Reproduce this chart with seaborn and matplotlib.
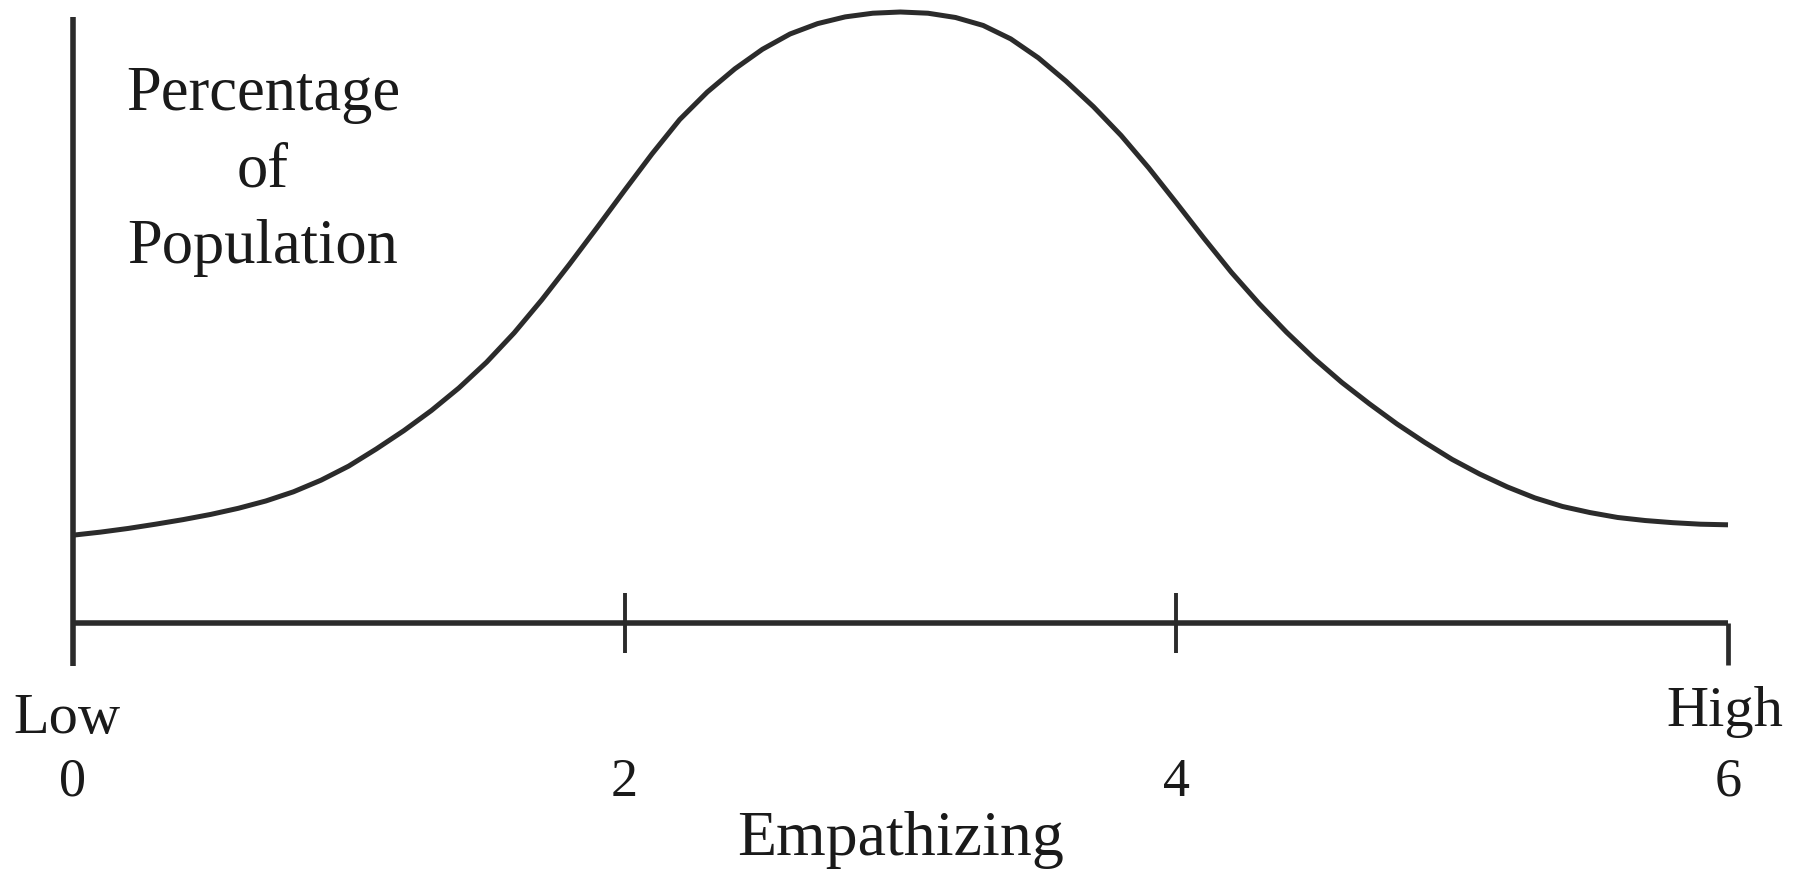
import numpy as np
import matplotlib
matplotlib.use("Agg")
import matplotlib.pyplot as plt
import matplotlib.lines as mlines
import seaborn as sns

# datos (altura relativa al pico = 100)
empathizing = [0.0, 0.1, 0.2, 0.3, 0.4, 0.5, 0.6, 0.7, 0.8, 0.9,
               1.0, 1.1, 1.2, 1.3, 1.4, 1.5, 1.6, 1.7, 1.8, 1.9,
               2.0, 2.1, 2.2, 2.3, 2.4, 2.5, 2.6, 2.7, 2.8, 2.9,
               3.0, 3.1, 3.2, 3.3, 3.4, 3.5, 3.6, 3.7, 3.8, 3.9,
               4.0, 4.1, 4.2, 4.3, 4.4, 4.5, 4.6, 4.7, 4.8, 4.9,
               5.0, 5.1, 5.2, 5.3, 5.4, 5.5, 5.6, 5.7, 5.8, 5.9, 6.0]
population_pct = [14.4, 14.9, 15.5, 16.2, 16.95, 17.8, 18.8, 20.0, 21.5, 23.4,
                  25.7, 28.5, 31.5, 34.8, 38.5, 42.7, 47.5, 52.9, 58.7, 64.7,
                  70.8, 76.8, 82.4, 86.9, 90.7, 93.9, 96.4, 98.1, 99.2, 99.8,
                  100.0, 99.8, 99.1, 97.8, 95.6, 92.5, 88.7, 84.5, 79.8, 74.5,
                  68.8, 63.0, 57.4, 52.3, 47.6, 43.3, 39.4, 35.9, 32.6, 29.6,
                  26.8, 24.4, 22.3, 20.5, 19.1, 18.1, 17.3, 16.8, 16.45, 16.2, 16.1]
tick_values = [0, 2, 4, 6]
tick_labels = ["0", "2", "4", "6"]
end_labels = ["Low", "High"]

sns.set_theme(style="white")
plt.rcParams["font.family"] = ["Liberation Serif", "DejaVu Serif"]

line_color = "#2b2b2b"
text_color = "#1a1a1a"

fig = plt.figure(figsize=(18.1, 8.69), dpi=100)
fig.patch.set_facecolor("white")
ax = fig.add_axes([0.0402, 0.2336, 0.9145, 0.7526])
ax.set_facecolor("white")

sns.lineplot(x=empathizing, y=population_pct, ax=ax, color=line_color,
             linewidth=3.6, clip_on=False, solid_joinstyle="round",
             solid_capstyle="butt")

ax.set_xlim(0, 6)
ax.set_ylim(-7, 100)

##ejes estilo "libro"
ax.spines["top"].set_visible(False)
ax.spines["right"].set_visible(False)
ax.spines["bottom"].set_position(("data", 0))
ax.spines["bottom"].set_bounds(0, 6)
ax.spines["left"].set_bounds(-7, 99.2)
for s in ["bottom", "left"]:
    ax.spines[s].set_linewidth(4.0)
    ax.spines[s].set_color(line_color)
    ax.spines[s].set_capstyle("butt")

ax.set_yticks([])
ax.set_xticks(tick_values, tick_labels)
ax.tick_params(axis="x", bottom=True, direction="inout", length=43, width=2.8,
               color=line_color, labelsize=39, labelcolor=text_color, pad=75)
ticks = ax.xaxis.get_major_ticks()
ticks[0].tick1line.set_visible(False)
ticks[-1].tick1line.set_marker(mlines.TICKDOWN)
ticks[-1].tick1line.set_markersize(30)
ticks[-1].tick1line.set_markeredgewidth(3.4)

ax.set_xlabel("Empathizing", fontsize=46, color=text_color, labelpad=2)

ax.set_ylabel("Percentage\nof\nPopulation", fontsize=45, color=text_color,
              rotation=0, ha="center", va="center", multialignment="center",
              linespacing=1.42)
ax.yaxis.set_label_coords(0.115, 0.756)

##etiquetas Low / High sobre los extremos
ax.annotate(end_labels[0], xy=(tick_values[0], 0), xytext=(-4, -79),
            textcoords="offset points", ha="center", va="baseline",
            fontsize=42, color=text_color)
ax.annotate(end_labels[1], xy=(tick_values[-1], 0), xytext=(-2, -74),
            textcoords="offset points", ha="center", va="baseline",
            fontsize=42, color=text_color)

plt.savefig("out.png", dpi=100)
